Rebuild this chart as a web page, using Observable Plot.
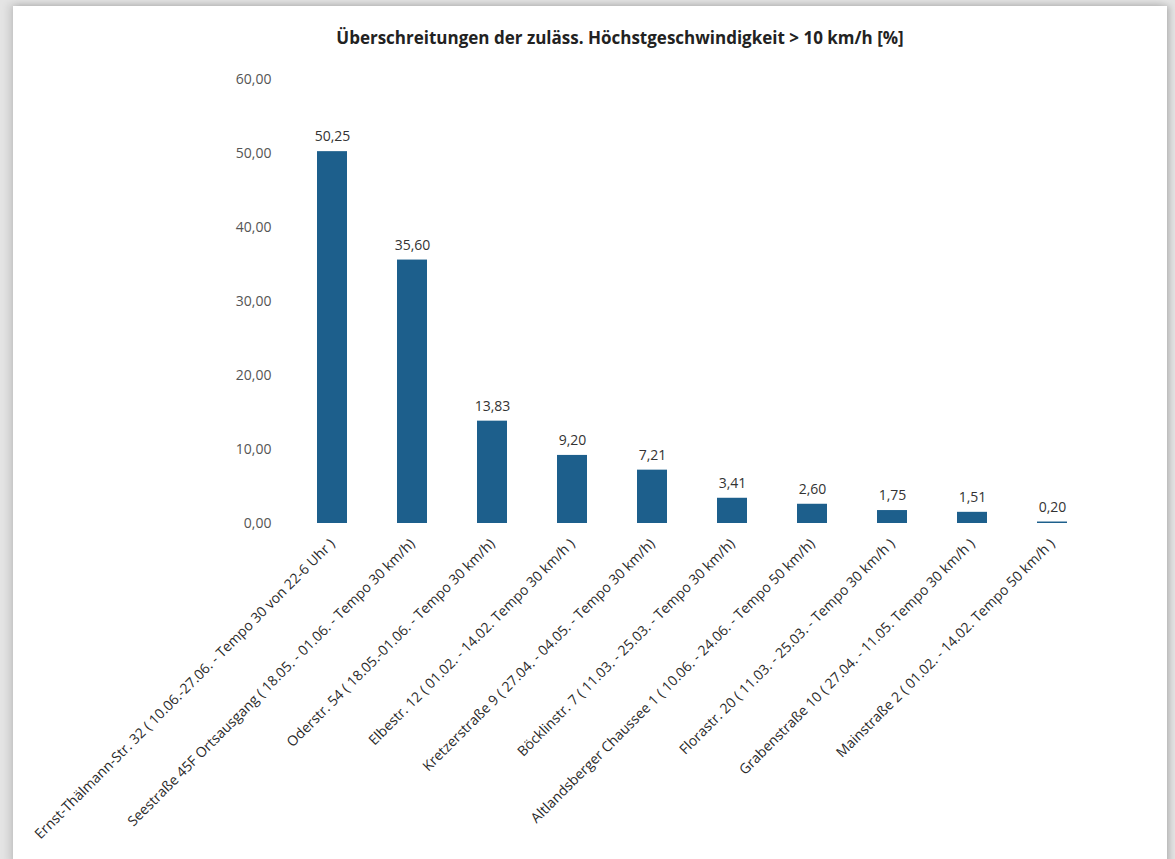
<!DOCTYPE html>
<html>
<head>
<meta charset="utf-8">
<script src="https://cdn.jsdelivr.net/npm/d3@7"></script>
<script src="https://cdn.jsdelivr.net/npm/@observablehq/plot@0.6"></script>
<style>
  html, body { margin: 0; padding: 0; }
  body { width: 1175px; height: 859px; background: #e4e4e4; overflow: hidden; position: relative; font-family: "Open Sans", sans-serif; }
  #card { position: absolute; left: 13px; top: 6px; width: 1154px; height: 860px; background: #ffffff; box-shadow: -4px -2px 8px rgba(0,0,0,0.12), 3px 0 6px rgba(0,0,0,0.18); }
  #title { height: 56px; padding-top: 8px; padding-left: 60px; box-sizing: border-box; line-height: 48px; text-align: center; font-weight: 700; font-size: 17px; color: #222; }
</style>
</head>
<body>
<div id="card">
  <div id="title">Überschreitungen der zuläss. Höchstgeschwindigkeit &gt; 10 km/h [%]</div>
  <div id="chart"></div>
</div>
<script>
const locations = [
  "Ernst-Thälmann-Str. 32 ( 10.06.-27.06. - Tempo 30 von 22-6 Uhr )",
  "Seestraße 45F Ortsausgang ( 18.05. - 01.06. - Tempo 30 km/h)",
  "Oderstr. 54 ( 18.05.-01.06. - Tempo 30 km/h)",
  "Elbestr. 12 ( 01.02. - 14.02. Tempo 30 km/h )",
  "Kretzerstraße 9 ( 27.04. - 04.05. - Tempo 30 km/h)",
  "Böcklinstr. 7 ( 11.03. - 25.03. - Tempo 30 km/h)",
  "Altlandsberger Chaussee 1 ( 10.06. - 24.06. - Tempo 50 km/h)",
  "Florastr. 20 ( 11.03. - 25.03. - Tempo 30 km/h )",
  "Grabenstraße 10 ( 27.04. - 11.05. Tempo 30 km/h )",
  "Mainstraße 2 ( 01.02. - 14.02. Tempo 50 km/h )"
];
const values = [50.25, 35.60, 13.83, 9.20, 7.21, 3.41, 2.60, 1.75, 1.51, 0.20];
const yTicks = [0, 10, 20, 30, 40, 50, 60];

const data = locations.map((loc, i) => ({loc, value: values[i]}));
const fmt = v => d3.format(".2f")(v).replace(".", ",");

const chart = Plot.plot({
  width: 1154,
  height: 797,
  marginTop: 17,
  marginBottom: 336,
  marginLeft: 279,
  marginRight: 74,
  style: {fontFamily: "Open Sans, sans-serif", fontSize: "14px", color: "#404040", background: "transparent"},
  x: {domain: locations, paddingInner: 0.62, paddingOuter: 0.31, label: null},
  y: {domain: [0, 60], label: null},
  marks: [
    Plot.barY(data, {x: "loc", y: "value", fill: "#1d5f8c"}),
    Plot.text(data, {x: "loc", y: "value", text: d => fmt(d.value), dy: -15, fill: "#333", fontSize: 14}),
    Plot.axisY({ticks: yTicks, tickFormat: fmt, tickSize: 0, tickPadding: 21, fill: "#555", fontSize: 14}),
    Plot.axisX({tickRotate: -45, tickSize: 0, tickPadding: 18, fill: "#2a2a2a", fontSize: 14, label: null})
  ]
});
document.getElementById("chart").appendChild(chart);
</script>
</body>
</html>
